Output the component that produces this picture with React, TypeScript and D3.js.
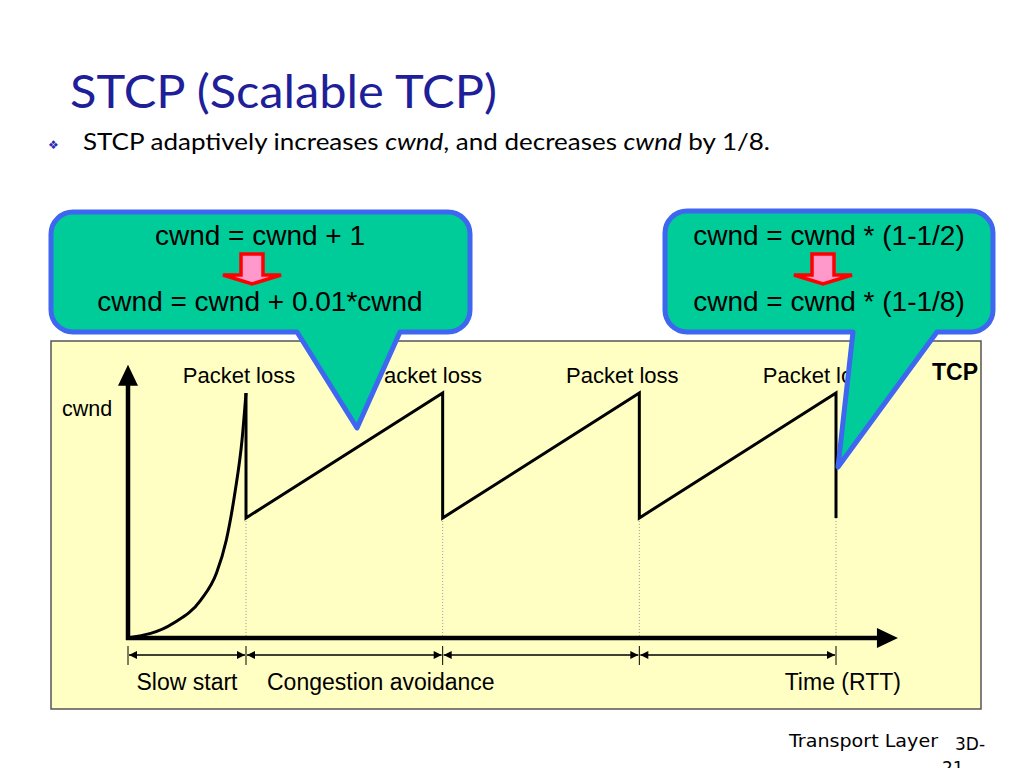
import React from 'react';
import * as d3 from 'd3';

// schematic cwnd trace (time in RTT, cwnd in % of max window)
const slowStartTime = [0, 2.3, 3.7, 4.5, 5.0, 5.45, 5.8, 6];
const slowStartCwnd = [0, 6, 15.5, 26.5, 40, 60, 81, 100];
const lossTimes = [6, 16, 26, 36];
const peakCwnd = 100;
const afterLossCwnd = 49;
const phaseBounds = [0, 6, 16, 26, 36];
const lossLabel = 'Packet loss';
const phaseLabels = ['Slow start', 'Congestion avoidance', 'Time (RTT)'];
const leftFormulas = ['cwnd = cwnd + 1', 'cwnd = cwnd + 0.01*cwnd'];
const rightFormulas = ['cwnd = cwnd * (1-1/2)', 'cwnd = cwnd * (1-1/8)'];

const W = 1024;
const H = 768;
const ARIAL = '"Liberation Sans", Arial, sans-serif';
const GILL = 'Lato, "Open Sans", sans-serif';

const x = d3.scaleLinear().domain([0, 36]).range([128, 836]);
const y = d3.scaleLinear().domain([0, 100]).range([638, 393]);
const xMax = 39.15;
const yMax = 111.5;

function calloutPath(x0, y0, x1, y1, r, baseR, tip, baseL) {
    const p = d3.path();
    p.moveTo(x0 + r, y0);
    p.lineTo(x1 - r, y0);
    p.arcTo(x1, y0, x1, y0 + r, r);
    p.lineTo(x1, y1 - r);
    p.arcTo(x1, y1, x1 - r, y1, r);
    p.lineTo(baseR, y1);
    p.lineTo(tip[0], tip[1]);
    p.lineTo(baseL, y1);
    p.lineTo(x0 + r, y1);
    p.arcTo(x0, y1, x0, y1 - r, r);
    p.lineTo(x0, y0 + r);
    p.arcTo(x0, y0, x0 + r, y0, r);
    p.closePath();
    return p.toString();
}

// little red/pink block arrow pointing down
const BlockArrow: React.FC<{ cx: number, top: number }> = ({ cx, top }) => {
    const pts = [
        [cx - 11, top], [cx + 11, top], [cx + 11, top + 21], [cx + 29, top + 21],
        [cx, top + 30], [cx - 29, top + 21], [cx - 11, top + 21],
    ];
    return <polygon points={pts.map(d => d.join(',')).join(' ')}
        fill="#FF99CC" stroke="#FF0000" strokeWidth={3.5} strokeLinejoin="miter" />;
};

const App: React.FC = () => {
    const ssLine = d3.line<number>()
        .x((d, i) => x(slowStartTime[i]))
        .y((d) => y(d))
        .curve(d3.curveMonotoneX)(slowStartCwnd);

    const sawPts: [number, number][] = [];
    lossTimes.forEach((t, i) => {
        if (i > 0) sawPts.push([x(t), y(peakCwnd)]);
        sawPts.push([x(t), y(afterLossCwnd)]);
    });
    // start exactly at slow-start peak then drop
    const sawLine = d3.line()([[x(lossTimes[0]), y(peakCwnd)], ...sawPts]);

    const by = 655;
    const ah = 8;
    const aw = 4;

    return (
        <svg width={W} height={H} style={{ position: 'absolute', left: 0, top: 0 }}>
            <rect x={0} y={0} width={W} height={H} fill="#ffffff" />

            {/* title */}
            <text x={70} y={108} fontFamily={GILL} fontSize={46} fill="#1F1F99"
                textLength={427} lengthAdjust="spacingAndGlyphs">STCP (Scalable TCP)</text>
            <text x={48} y={149} fontFamily='"DejaVu Sans", sans-serif' fontSize={12} fill="#2A2AB0">❖</text>
            <text x={83} y={150} fontFamily={GILL} fontSize={24} fill="#000" textLength={687} lengthAdjust="spacingAndGlyphs">
                STCP adaptively increases <tspan fontStyle="italic">cwnd</tspan>, and decreases <tspan fontStyle="italic">cwnd</tspan> by 1/8.
            </text>

            {/* plot panel */}
            <rect x={51} y={341} width={930} height={368} fill="#FFFFC4" stroke="#555" strokeWidth={1.5} />

            {/* dotted guides at loss events */}
            {lossTimes.map((t) => (
                <line key={'g' + t} x1={x(t)} x2={x(t)} y1={y(afterLossCwnd)} y2={y(0)}
                    stroke="#999" strokeWidth={1} strokeDasharray="1,2" />
            ))}

            {/* axes */}
            <line x1={x(0)} x2={x(0)} y1={y(0) + 2} y2={y(yMax) + 18} stroke="#000" strokeWidth={4.5} />
            <polygon points={`${x(0) - 10},${y(yMax) + 21} ${x(0) + 10},${y(yMax) + 21} ${x(0)},${y(yMax)}`} fill="#000" />
            <line x1={x(0) - 2} x2={x(xMax) - 18} y1={y(0)} y2={y(0)} stroke="#000" strokeWidth={4.5} />
            <polygon points={`${x(xMax) - 21},${y(0) - 10} ${x(xMax) - 21},${y(0) + 10} ${x(xMax)},${y(0)}`} fill="#000" />

            {/* cwnd trace */}
            <path d={ssLine} fill="none" stroke="#000" strokeWidth={3} />
            <path d={sawLine} fill="none" stroke="#000" strokeWidth={3} strokeLinejoin="miter" />

            {/* phase brackets */}
            {phaseBounds.map((t) => (
                <line key={'t' + t} x1={x(t)} x2={x(t)} y1={by - 9} y2={by + 10} stroke="#000" strokeWidth={1} />
            ))}
            {phaseBounds.slice(1).map((t, i) => {
                const a = x(phaseBounds[i]) + 1;
                const b = x(t) - 1;
                return (
                    <g key={'b' + t}>
                        <line x1={a} x2={b} y1={by} y2={by} stroke="#000" strokeWidth={1.5} />
                        <polygon points={`${a},${by} ${a + ah},${by - aw} ${a + ah},${by + aw}`} fill="#000" />
                        <polygon points={`${b},${by} ${b - ah},${by - aw} ${b - ah},${by + aw}`} fill="#000" />
                    </g>
                );
            })}

            {/* labels */}
            {lossTimes.map((t, i) => (
                <text key={'l' + t} x={x(t) - (i === 0 ? 7 : 17)} y={383} textAnchor="middle" fontFamily={ARIAL} fontSize={22}>{lossLabel}</text>
            ))}
            <text x={62} y={416} fontFamily={ARIAL} fontSize={21.5}>cwnd</text>
            <text x={978} y={380} textAnchor="end" fontFamily={ARIAL} fontSize={23} fontWeight="bold">TCP</text>
            <text x={(x(phaseBounds[0]) + x(phaseBounds[1])) / 2} y={690} textAnchor="middle" fontFamily={ARIAL} fontSize={23}>{phaseLabels[0]}</text>
            <text x={x(phaseBounds[1]) + 21} y={690} fontFamily={ARIAL} fontSize={23}>{phaseLabels[1]}</text>
            <text x={x(xMax) + 3} y={690} textAnchor="end" fontFamily={ARIAL} fontSize={23}>{phaseLabels[2]}</text>

            {/* callouts */}
            <path d={calloutPath(51, 212, 470, 332, 22, 400, [357, 428], 297)}
                fill="#00CC99" stroke="#3F66F0" strokeWidth={5} strokeLinejoin="round" />
            <text x={260} y={245} textAnchor="middle" fontFamily={ARIAL} fontSize={28}>{leftFormulas[0]}</text>
            <BlockArrow cx={252} top={254} />
            <text x={260} y={311} textAnchor="middle" fontFamily={ARIAL} fontSize={28}>{leftFormulas[1]}</text>

            <path d={calloutPath(665, 211, 993, 332, 22, 937, [838, 467], 853)}
                fill="#00CC99" stroke="#3F66F0" strokeWidth={5} strokeLinejoin="round" />
            <text x={829} y={245} textAnchor="middle" fontFamily={ARIAL} fontSize={28}>{rightFormulas[0]}</text>
            <BlockArrow cx={823} top={254} />
            <text x={829} y={311} textAnchor="middle" fontFamily={ARIAL} fontSize={28}>{rightFormulas[1]}</text>

            {/* footer */}
            <text x={789} y={747} fontFamily='"DejaVu Sans", sans-serif' fontSize={17} textLength={149} lengthAdjust="spacingAndGlyphs">Transport Layer</text>
            <text x={955} y={750} fontFamily='"DejaVu Sans", sans-serif' fontSize={17}>3D-</text>
            <text x={942} y={774} fontFamily='"DejaVu Sans", sans-serif' fontSize={17}>21</text>
        </svg>
    );
};

export default App;
